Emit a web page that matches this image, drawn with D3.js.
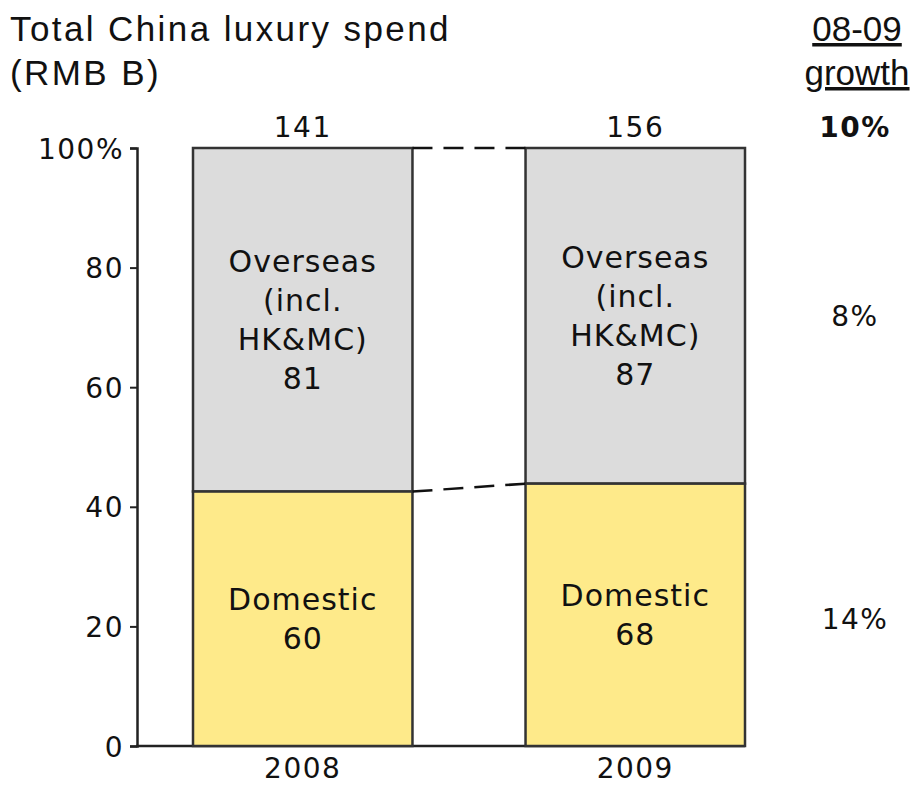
<!DOCTYPE html>
<html>
<head>
<meta charset="utf-8">
<script src="https://cdn.jsdelivr.net/npm/d3@7"></script>
<style>
  body { margin: 0; background: #fff; }
  text { fill: #111; }
</style>
</head>
<body>
<svg id="chart" width="917" height="787"></svg>
<script>
const years = ["2008", "2009"];
const domestic = [60, 68];
const overseas = [81, 87];
const totals = [141, 156];
const yTicks = [0, 20, 40, 60, 80, 100];
const growth = ["10%", "8%", "14%"];

const svg = d3.select("#chart");
const font = "DejaVu Sans, Verdana, sans-serif";
const tfont = "Liberation Sans, Arial, sans-serif";

const x = d3.scaleBand().domain(years).range([193, 745]).paddingInner(0.34).paddingOuter(0);
const y = d3.scaleLinear().domain([0, 100]).range([746, 148]);

const rows = years.map((yr, i) => {
  const tot = domestic[i] + overseas[i];
  return { yr, dom: domestic[i], ovs: overseas[i], total: totals[i], domPct: domestic[i] / tot * 100 };
});

// axis
const axis = svg.append("g").attr("transform", "translate(137,0)")
  .call(d3.axisLeft(y).tickValues(yTicks).tickSize(7).tickPadding(6)
    .tickFormat(d => d === 100 ? "100%" : d));
axis.select(".domain").attr("stroke", "#222").attr("stroke-width", 2.5);
axis.selectAll(".tick line").attr("stroke", "#222").attr("stroke-width", 2);
axis.selectAll(".tick text").attr("font-family", font).attr("font-size", 28)
  .attr("letter-spacing", 1.5).attr("fill", "#111").attr("dy", "0.36em");

// baseline
svg.append("line").attr("x1", 136).attr("x2", x("2009") + x.bandwidth())
  .attr("y1", y(0)).attr("y2", y(0)).attr("stroke", "#222").attr("stroke-width", 2.5);

const bars = svg.selectAll("g.bar").data(rows).join("g").attr("class", "bar");
bars.append("rect")
  .attr("x", d => x(d.yr)).attr("width", x.bandwidth())
  .attr("y", y(100)).attr("height", d => y(d.domPct) - y(100))
  .attr("fill", "#dcdcdc").attr("stroke", "#333").attr("stroke-width", 2.5);
bars.append("rect")
  .attr("x", d => x(d.yr)).attr("width", x.bandwidth())
  .attr("y", d => y(d.domPct)).attr("height", d => y(0) - y(d.domPct))
  .attr("fill", "#feea8a").attr("stroke", "#333").attr("stroke-width", 2.5);

// connectors
const pairs = [[100, 100], [rows[0].domPct, rows[1].domPct]];
svg.selectAll("line.conn").data(pairs).join("line").attr("class", "conn")
  .attr("x1", x("2008") + x.bandwidth()).attr("x2", x("2009"))
  .attr("y1", d => y(d[0])).attr("y2", d => y(d[1]))
  .attr("stroke", "#111").attr("stroke-width", 2.5).attr("stroke-dasharray", "20 11");

const lh = 39;
const lbl = sel => sel.attr("font-family", font).attr("font-size", 30).attr("letter-spacing", 1)
  .attr("text-anchor", "middle");

bars.each(function(d) {
  const g = d3.select(this);
  const cx = x(d.yr) + x.bandwidth() / 2;
  const midO = (y(100) + y(d.domPct)) / 2;
  g.append("text").call(lbl)
    .selectAll("tspan").data(["Overseas", "(incl.", "HK&MC)", d.ovs]).join("tspan")
    .attr("x", cx).attr("y", (l, i) => midO + (i - 1.5) * lh).attr("dy", "0.36em").text(l => l);
  const midD = (y(d.domPct) + y(0)) / 2;
  g.append("text").call(lbl)
    .selectAll("tspan").data(["Domestic", d.dom]).join("tspan")
    .attr("x", cx).attr("y", (l, i) => midD + (i - 0.5) * lh).attr("dy", "0.36em").text(l => l);
  g.append("text").call(lbl).attr("font-size", 28).attr("letter-spacing", 1.5)
    .attr("x", cx).attr("y", 127).attr("dy", "0.36em").text(d.total);
  g.append("text").call(lbl).attr("font-size", 28).attr("letter-spacing", 1.5)
    .attr("x", cx).attr("y", 768).attr("dy", "0.36em").text(d.yr);
});

// title
const title = svg.append("text").attr("font-family", tfont).attr("font-size", 35).attr("letter-spacing", 2.4);
title.append("tspan").attr("x", 10).attr("y", 41).text("Total China luxury spend");
title.append("tspan").attr("x", 10).attr("y", 85).text("(RMB B)");

// growth column
const gc = 857;
const head = svg.append("text").attr("font-family", tfont).attr("font-size", 35)
  .attr("text-anchor", "middle").attr("text-decoration", "underline");
head.append("tspan").attr("x", gc).attr("y", 41).text("08-09");
head.append("tspan").attr("x", gc).attr("y", 85).text("growth");

const gy = [127, (y(100) + y(rows[1].domPct)) / 2, (y(rows[0].domPct) + y(0)) / 2];
svg.selectAll("text.growth").data(growth).join("text").attr("class", "growth")
  .attr("x", 855).attr("y", (d, i) => gy[i]).attr("dy", "0.36em").attr("text-anchor", "middle")
  .attr("font-family", font).attr("font-size", 28).attr("letter-spacing", 1.5)
  .attr("font-weight", (d, i) => i === 0 ? "bold" : "normal")
  .text(d => d);
</script>
</body>
</html>
